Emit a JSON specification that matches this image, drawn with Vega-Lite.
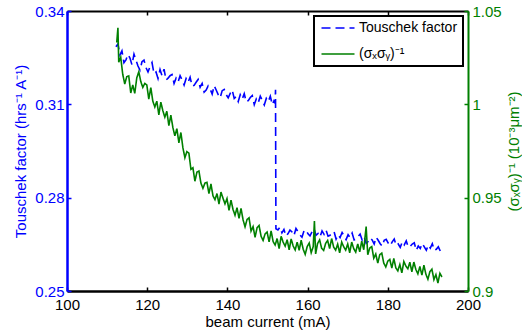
{
  "$schema": "https://vega.github.io/schema/vega-lite/v6.json",
  "width": 401,
  "height": 280,
  "autosize": "none",
  "padding": {"left": 67, "top": 11, "right": 54, "bottom": 44},
  "background": "white",
  "config": {
    "view": {"stroke": null},
    "font": "Liberation Sans",
    "axis": {
      "grid": false,
      "labelFont": "Liberation Sans",
      "titleFont": "Liberation Sans",
      "labelFontSize": 15,
      "titleFontSize": 15,
      "titleFontWeight": "normal",
      "tickSize": -4,
      "tickWidth": 1.5,
      "labelFlush": false,
      "labelOverlap": false
    },
    "legend": {
      "orient": "top-right",
      "offset": 5,
      "strokeColor": "black",
      "strokeWidth": 2,
      "fillColor": "white",
      "padding": 5,
      "labelFont": "Liberation Sans",
      "labelFontSize": 14,
      "labelColor": "black",
      "labelOffset": 14,
      "symbolType": "M-3,0L3,0",
      "symbolSize": 121,
      "symbolOffset": 12,
      "symbolStrokeWidth": 1.6,
      "rowPadding": 12
    }
  },
  "datasets": {
    "touschek": [
      {"current": 112.2, "value": 0.3285}, {"current": 112.7, "value": 0.3294}, {"current": 113.2, "value": 0.3259}, {"current": 113.7, "value": 0.3272},
      {"current": 114.2, "value": 0.3234}, {"current": 114.7, "value": 0.3243}, {"current": 115.2, "value": 0.3260}, {"current": 115.7, "value": 0.3249},
      {"current": 116.2, "value": 0.3227}, {"current": 116.7, "value": 0.3261}, {"current": 117.2, "value": 0.3242}, {"current": 117.7, "value": 0.3223},
      {"current": 118.2, "value": 0.3210}, {"current": 118.7, "value": 0.3237}, {"current": 119.2, "value": 0.3242}, {"current": 119.7, "value": 0.3218},
      {"current": 120.2, "value": 0.3204}, {"current": 120.7, "value": 0.3221}, {"current": 121.2, "value": 0.3234}, {"current": 121.7, "value": 0.3198},
      {"current": 122.2, "value": 0.3204}, {"current": 122.7, "value": 0.3183}, {"current": 123.2, "value": 0.3212}, {"current": 123.7, "value": 0.3192},
      {"current": 124.2, "value": 0.3213}, {"current": 124.7, "value": 0.3178}, {"current": 125.2, "value": 0.3184}, {"current": 125.7, "value": 0.3192},
      {"current": 126.2, "value": 0.3196}, {"current": 126.7, "value": 0.3167}, {"current": 127.2, "value": 0.3184}, {"current": 127.7, "value": 0.3172},
      {"current": 128.2, "value": 0.3192}, {"current": 128.7, "value": 0.3178}, {"current": 129.2, "value": 0.3162}, {"current": 129.7, "value": 0.3183},
      {"current": 130.2, "value": 0.3171}, {"current": 130.7, "value": 0.3187}, {"current": 131.2, "value": 0.3159}, {"current": 131.7, "value": 0.3161},
      {"current": 132.2, "value": 0.3171}, {"current": 132.7, "value": 0.3180}, {"current": 133.2, "value": 0.3155}, {"current": 133.7, "value": 0.3167},
      {"current": 134.2, "value": 0.3139}, {"current": 134.7, "value": 0.3146}, {"current": 135.2, "value": 0.3159}, {"current": 135.7, "value": 0.3149},
      {"current": 136.2, "value": 0.3133}, {"current": 136.7, "value": 0.3160}, {"current": 137.2, "value": 0.3146}, {"current": 137.7, "value": 0.3131},
      {"current": 138.2, "value": 0.3121}, {"current": 138.7, "value": 0.3144}, {"current": 139.2, "value": 0.3148}, {"current": 139.7, "value": 0.3131},
      {"current": 140.2, "value": 0.3121}, {"current": 140.7, "value": 0.3135}, {"current": 141.2, "value": 0.3146}, {"current": 141.7, "value": 0.3119},
      {"current": 142.2, "value": 0.3125}, {"current": 142.7, "value": 0.3109}, {"current": 143.2, "value": 0.3131}, {"current": 143.7, "value": 0.3117},
      {"current": 144.2, "value": 0.3134}, {"current": 144.7, "value": 0.3108}, {"current": 145.2, "value": 0.3112}, {"current": 145.7, "value": 0.3122},
      {"current": 146.2, "value": 0.3128}, {"current": 146.7, "value": 0.3099}, {"current": 147.2, "value": 0.3117}, {"current": 147.7, "value": 0.3105},
      {"current": 148.2, "value": 0.3126}, {"current": 148.7, "value": 0.3113}, {"current": 149.2, "value": 0.3098}, {"current": 149.7, "value": 0.3119},
      {"current": 150.2, "value": 0.3109}, {"current": 150.7, "value": 0.3126}, {"current": 151.2, "value": 0.3099}, {"current": 151.6, "value": 0.3111},
      {"current": 151.9, "value": 0.3103}, {"current": 152.0, "value": 0.3147}, {"current": 152.1, "value": 0.2700}, {"current": 152.6, "value": 0.2696},
      {"current": 153.1, "value": 0.2705}, {"current": 153.6, "value": 0.2687}, {"current": 154.1, "value": 0.2698}, {"current": 154.6, "value": 0.2677},
      {"current": 155.1, "value": 0.2684}, {"current": 155.6, "value": 0.2696}, {"current": 156.1, "value": 0.2690}, {"current": 156.6, "value": 0.2678},
      {"current": 157.1, "value": 0.2701}, {"current": 157.6, "value": 0.2691}, {"current": 158.1, "value": 0.2680}, {"current": 158.6, "value": 0.2673},
      {"current": 159.1, "value": 0.2693}, {"current": 159.6, "value": 0.2696}, {"current": 160.1, "value": 0.2684}, {"current": 160.6, "value": 0.2677},
      {"current": 161.1, "value": 0.2690}, {"current": 161.6, "value": 0.2700}, {"current": 162.1, "value": 0.2679}, {"current": 162.6, "value": 0.2685},
      {"current": 163.1, "value": 0.2674}, {"current": 163.6, "value": 0.2693}, {"current": 164.1, "value": 0.2682}, {"current": 164.6, "value": 0.2696},
      {"current": 165.1, "value": 0.2676}, {"current": 165.6, "value": 0.2679}, {"current": 166.1, "value": 0.2687}, {"current": 166.6, "value": 0.2691},
      {"current": 167.1, "value": 0.2667}, {"current": 167.6, "value": 0.2681}, {"current": 168.1, "value": 0.2672}, {"current": 168.6, "value": 0.2688},
      {"current": 169.1, "value": 0.2677}, {"current": 169.6, "value": 0.2665}, {"current": 170.1, "value": 0.2681}, {"current": 170.6, "value": 0.2672},
      {"current": 171.1, "value": 0.2686}, {"current": 171.6, "value": 0.2664}, {"current": 172.1, "value": 0.2667}, {"current": 172.6, "value": 0.2675},
      {"current": 173.1, "value": 0.2683}, {"current": 173.6, "value": 0.2664}, {"current": 174.1, "value": 0.2675}, {"current": 174.6, "value": 0.2653},
      {"current": 175.1, "value": 0.2659}, {"current": 175.6, "value": 0.2670}, {"current": 176.1, "value": 0.2664}, {"current": 176.6, "value": 0.2651},
      {"current": 177.1, "value": 0.2673}, {"current": 177.6, "value": 0.2663}, {"current": 178.1, "value": 0.2652}, {"current": 178.6, "value": 0.2644},
      {"current": 179.1, "value": 0.2663}, {"current": 179.6, "value": 0.2666}, {"current": 180.1, "value": 0.2654}, {"current": 180.6, "value": 0.2646},
      {"current": 181.1, "value": 0.2658}, {"current": 181.6, "value": 0.2667}, {"current": 182.1, "value": 0.2646}, {"current": 182.6, "value": 0.2651},
      {"current": 183.1, "value": 0.2640}, {"current": 183.6, "value": 0.2658}, {"current": 184.1, "value": 0.2648}, {"current": 184.6, "value": 0.2661},
      {"current": 185.1, "value": 0.2641}, {"current": 185.6, "value": 0.2644}, {"current": 186.1, "value": 0.2651}, {"current": 186.6, "value": 0.2655},
      {"current": 187.1, "value": 0.2631}, {"current": 187.6, "value": 0.2645}, {"current": 188.1, "value": 0.2637}, {"current": 188.6, "value": 0.2653},
      {"current": 189.1, "value": 0.2642}, {"current": 189.6, "value": 0.2631}, {"current": 190.1, "value": 0.2648}, {"current": 190.6, "value": 0.2638},
      {"current": 191.1, "value": 0.2652}, {"current": 191.6, "value": 0.2631}, {"current": 192.1, "value": 0.2634}, {"current": 192.6, "value": 0.2642},
      {"current": 193.1, "value": 0.2628}, {"current": 193.7, "value": 0.2640}
    ],
    "sigma": [
      {"current": 112.4, "value": 1.0331}, {"current": 112.7, "value": 1.0410}, {"current": 112.9, "value": 1.0226}, {"current": 113.4, "value": 1.0252},
      {"current": 113.9, "value": 1.0161}, {"current": 114.4, "value": 1.0109}, {"current": 114.9, "value": 1.0148}, {"current": 115.4, "value": 1.0152},
      {"current": 115.9, "value": 1.0061}, {"current": 116.4, "value": 1.0104}, {"current": 116.9, "value": 1.0059}, {"current": 117.4, "value": 1.0142},
      {"current": 117.9, "value": 1.0174}, {"current": 118.4, "value": 1.0122}, {"current": 118.9, "value": 1.0091}, {"current": 119.4, "value": 1.0112},
      {"current": 119.9, "value": 1.0104}, {"current": 120.4, "value": 1.0028}, {"current": 120.9, "value": 1.0090}, {"current": 121.4, "value": 1.0017},
      {"current": 121.9, "value": 0.9986}, {"current": 122.4, "value": 1.0017}, {"current": 122.9, "value": 0.9944}, {"current": 123.4, "value": 1.0012},
      {"current": 123.9, "value": 0.9966}, {"current": 124.4, "value": 0.9931}, {"current": 124.9, "value": 0.9963}, {"current": 125.4, "value": 0.9886},
      {"current": 125.9, "value": 0.9942}, {"current": 126.4, "value": 0.9876}, {"current": 126.9, "value": 0.9831}, {"current": 127.4, "value": 0.9870},
      {"current": 127.9, "value": 0.9794}, {"current": 128.4, "value": 0.9849}, {"current": 128.9, "value": 0.9768}, {"current": 129.4, "value": 0.9714},
      {"current": 129.9, "value": 0.9747}, {"current": 130.4, "value": 0.9738}, {"current": 130.9, "value": 0.9652}, {"current": 131.4, "value": 0.9660},
      {"current": 131.9, "value": 0.9588}, {"current": 132.4, "value": 0.9637}, {"current": 132.9, "value": 0.9643}, {"current": 133.4, "value": 0.9578},
      {"current": 133.9, "value": 0.9550}, {"current": 134.4, "value": 0.9578}, {"current": 134.9, "value": 0.9582}, {"current": 135.4, "value": 0.9522},
      {"current": 135.9, "value": 0.9574}, {"current": 136.4, "value": 0.9510}, {"current": 136.9, "value": 0.9489}, {"current": 137.4, "value": 0.9522},
      {"current": 137.9, "value": 0.9466}, {"current": 138.4, "value": 0.9530}, {"current": 138.9, "value": 0.9497}, {"current": 139.4, "value": 0.9467},
      {"current": 139.9, "value": 0.9495}, {"current": 140.4, "value": 0.9432}, {"current": 140.9, "value": 0.9487}, {"current": 141.4, "value": 0.9437},
      {"current": 141.9, "value": 0.9406}, {"current": 142.4, "value": 0.9446}, {"current": 142.9, "value": 0.9389}, {"current": 143.4, "value": 0.9443},
      {"current": 143.9, "value": 0.9382}, {"current": 144.4, "value": 0.9344}, {"current": 144.9, "value": 0.9383}, {"current": 145.4, "value": 0.9392},
      {"current": 145.9, "value": 0.9321}, {"current": 146.4, "value": 0.9345}, {"current": 146.9, "value": 0.9288}, {"current": 147.4, "value": 0.9339},
      {"current": 147.9, "value": 0.9351}, {"current": 148.4, "value": 0.9293}, {"current": 148.9, "value": 0.9271}, {"current": 149.4, "value": 0.9306},
      {"current": 149.9, "value": 0.9316}, {"current": 150.4, "value": 0.9263}, {"current": 150.9, "value": 0.9322}, {"current": 151.4, "value": 0.9265},
      {"current": 151.9, "value": 0.9246}, {"current": 152.4, "value": 0.9281}, {"current": 152.9, "value": 0.9227}, {"current": 153.4, "value": 0.9293},
      {"current": 153.9, "value": 0.9262}, {"current": 154.4, "value": 0.9240}, {"current": 154.9, "value": 0.9275}, {"current": 155.4, "value": 0.9220},
      {"current": 155.9, "value": 0.9279}, {"current": 156.4, "value": 0.9241}, {"current": 156.9, "value": 0.9220}, {"current": 157.4, "value": 0.9262},
      {"current": 157.9, "value": 0.9218}, {"current": 158.4, "value": 0.9272}, {"current": 158.9, "value": 0.9224}, {"current": 159.4, "value": 0.9196},
      {"current": 159.9, "value": 0.9238}, {"current": 160.4, "value": 0.9257}, {"current": 160.9, "value": 0.9205}, {"current": 161.4, "value": 0.9238},
      {"current": 161.7, "value": 0.9375}, {"current": 162.0, "value": 0.9199}, {"current": 162.5, "value": 0.9255}, {"current": 163.0, "value": 0.9274},
      {"current": 163.5, "value": 0.9229}, {"current": 164.0, "value": 0.9217}, {"current": 164.5, "value": 0.9255}, {"current": 165.0, "value": 0.9271},
      {"current": 165.5, "value": 0.9227}, {"current": 166.0, "value": 0.9281}, {"current": 166.5, "value": 0.9235}, {"current": 167.0, "value": 0.9219},
      {"current": 167.5, "value": 0.9251}, {"current": 168.0, "value": 0.9204}, {"current": 168.5, "value": 0.9262}, {"current": 169.0, "value": 0.9237},
      {"current": 169.5, "value": 0.9219}, {"current": 170.0, "value": 0.9252}, {"current": 170.5, "value": 0.9205}, {"current": 171.0, "value": 0.9262},
      {"current": 171.5, "value": 0.9227}, {"current": 172.0, "value": 0.9208}, {"current": 172.5, "value": 0.9252}, {"current": 173.0, "value": 0.9210},
      {"current": 173.5, "value": 0.9267}, {"current": 174.0, "value": 0.9221}, {"current": 174.6, "value": 0.9345}, {"current": 175.0, "value": 0.9194},
      {"current": 175.5, "value": 0.9230}, {"current": 176.0, "value": 0.9238}, {"current": 176.5, "value": 0.9176}, {"current": 177.0, "value": 0.9198},
      {"current": 177.5, "value": 0.9149}, {"current": 178.0, "value": 0.9195}, {"current": 178.5, "value": 0.9203}, {"current": 179.0, "value": 0.9149},
      {"current": 179.5, "value": 0.9129}, {"current": 180.0, "value": 0.9160}, {"current": 180.5, "value": 0.9169}, {"current": 181.0, "value": 0.9123},
      {"current": 181.5, "value": 0.9174}, {"current": 182.0, "value": 0.9124}, {"current": 182.5, "value": 0.9108}, {"current": 183.0, "value": 0.9142},
      {"current": 183.5, "value": 0.9097}, {"current": 184.0, "value": 0.9158}, {"current": 184.5, "value": 0.9134}, {"current": 185.0, "value": 0.9119},
      {"current": 185.5, "value": 0.9154}, {"current": 186.0, "value": 0.9103}, {"current": 186.5, "value": 0.9155}, {"current": 187.0, "value": 0.9115},
      {"current": 187.5, "value": 0.9092}, {"current": 188.0, "value": 0.9131}, {"current": 188.5, "value": 0.9085}, {"current": 189.0, "value": 0.9138},
      {"current": 189.5, "value": 0.9090}, {"current": 190.0, "value": 0.9063}, {"current": 190.5, "value": 0.9104}, {"current": 191.0, "value": 0.9117},
      {"current": 191.5, "value": 0.9061}, {"current": 192.0, "value": 0.9088}, {"current": 192.5, "value": 0.9043}, {"current": 193.0, "value": 0.9095},
      {"current": 193.5, "value": 0.9075}
    ]
  },
  "layer": [
    {
      "data": {"name": "touschek"},
      "mark": {"type": "line", "strokeWidth": 1.6},
      "encoding": {
        "x": {
          "field": "current", "type": "quantitative",
          "scale": {"domain": [100, 200], "nice": false, "zero": false},
          "axis": {
            "orient": "bottom", "values": [100, 120, 140, 160, 180, 200],
            "title": "beam current (mA)",
            "domainColor": "black", "domainWidth": 2.5, "tickColor": "black",
            "labelColor": "black", "titleColor": "black",
            "labelPadding": 10, "titlePadding": 2
          }
        },
        "y": {
          "field": "value", "type": "quantitative",
          "scale": {"domain": [0.25, 0.34], "nice": false, "zero": false},
          "axis": {
            "orient": "left", "values": [0.25, 0.28, 0.31, 0.34], "format": "~g",
            "title": "Touschek factor (hrs⁻¹ A⁻¹)",
            "domainColor": "#0000ff", "domainWidth": 2.5, "tickColor": "#0000ff",
            "labelColor": "#0000ff", "titleColor": "#0000ff",
            "labelPadding": 7, "titlePadding": 6
          }
        },
        "color": {
          "datum": "Touschek factor", "type": "nominal",
          "scale": {"domain": ["Touschek factor", "(σₓσᵧ)⁻¹"], "range": ["#0000ff", "#008000"]},
          "legend": {"title": null}
        },
        "strokeDash": {
          "datum": "Touschek factor", "type": "nominal",
          "scale": {"domain": ["Touschek factor", "(σₓσᵧ)⁻¹"], "range": [[9, 5], [1, 0]]},
          "legend": {"title": null}
        }
      }
    },
    {
      "data": {"name": "sigma"},
      "mark": {"type": "line", "strokeWidth": 1.6},
      "encoding": {
        "x": {
          "field": "current", "type": "quantitative",
          "scale": {"domain": [100, 200], "nice": false, "zero": false},
          "axis": {
            "orient": "top", "values": [100, 120, 140, 160, 180, 200],
            "labels": false, "title": null,
            "domainColor": "black", "domainWidth": 2, "tickColor": "black"
          }
        },
        "y": {
          "field": "value", "type": "quantitative",
          "scale": {"domain": [0.9, 1.05], "nice": false, "zero": false},
          "axis": {
            "orient": "right", "values": [0.9, 0.95, 1, 1.05], "format": "~g",
            "title": "(σₓσᵧ)⁻¹ (10⁻³μm⁻²)",
            "titleAngle": 270, "titleBaseline": "top",
            "domainColor": "#008000", "domainWidth": 2, "tickColor": "#008000",
            "labelColor": "#008000", "titleColor": "#008000",
            "labelPadding": 8, "titlePadding": 5
          }
        },
        "color": {
          "datum": "(σₓσᵧ)⁻¹", "type": "nominal",
          "scale": {"domain": ["Touschek factor", "(σₓσᵧ)⁻¹"], "range": ["#0000ff", "#008000"]},
          "legend": {"title": null}
        },
        "strokeDash": {
          "datum": "(σₓσᵧ)⁻¹", "type": "nominal",
          "scale": {"domain": ["Touschek factor", "(σₓσᵧ)⁻¹"], "range": [[9, 5], [1, 0]]},
          "legend": {"title": null}
        }
      }
    }
  ],
  "resolve": {"scale": {"y": "independent"}, "axis": {"x": "independent"}}
}
